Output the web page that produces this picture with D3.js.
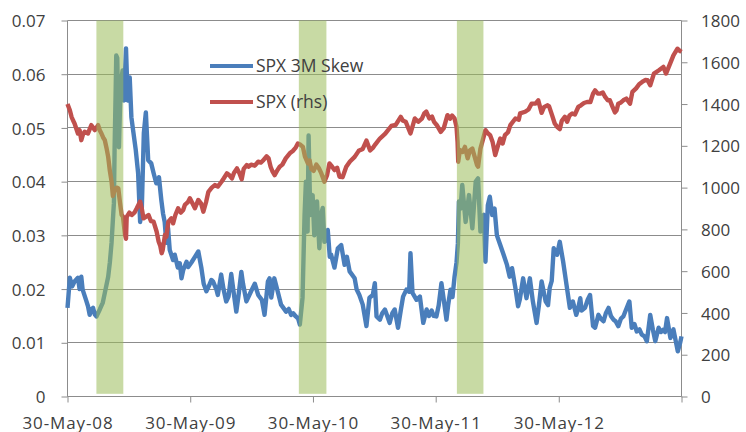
<!DOCTYPE html>
<html>
<head>
<meta charset="utf-8">
<script src="https://cdn.jsdelivr.net/npm/d3@7"></script>
<style>
body { margin: 0; background: #fff; }
svg text { font-family: "Open Sans", sans-serif; fill: #404040; }
</style>
</head>
<body>
<div id="chart"></div>
<script>
// SPX 3M skew (left axis) - [date, value]
var skewSeries = [
	["2008-05-30",0.0165],["2008-06-06",0.0221],["2008-06-13",0.0205],["2008-06-20",0.0214],["2008-06-30",0.0221],
	["2008-07-05",0.0200],["2008-07-10",0.0223],["2008-07-14",0.0199],["2008-07-24",0.0180],["2008-07-30",0.0168],
	["2008-08-04",0.0152],["2008-08-09",0.0162],["2008-08-14",0.0165],["2008-08-19",0.0153],["2008-08-24",0.0149],
	["2008-09-03",0.0162],["2008-09-12",0.0175],["2008-09-18",0.0193],["2008-09-28",0.0223],["2008-10-03",0.0250],
	["2008-10-08",0.0286],["2008-10-12",0.0329],["2008-10-15",0.0360],["2008-10-17",0.0459],["2008-10-20",0.0560],
	["2008-10-22",0.0635],["2008-10-25",0.0630],["2008-10-28",0.0520],["2008-10-30",0.0464],["2008-11-04",0.0583],
	["2008-11-10",0.0607],["2008-11-14",0.0551],["2008-11-20",0.0648],["2008-11-25",0.0551],["2008-12-01",0.0594],
	["2008-12-06",0.0520],["2008-12-11",0.0496],["2008-12-19",0.0459],["2008-12-26",0.0416],["2009-01-01",0.0325],
	["2009-01-06",0.0350],["2009-01-12",0.0490],["2009-01-18",0.0529],["2009-01-25",0.0440],["2009-02-03",0.0434],
	["2009-02-10",0.0416],["2009-02-18",0.0397],["2009-02-26",0.0408],["2009-03-05",0.0366],["2009-03-10",0.0341],
	["2009-03-15",0.0325],["2009-03-20",0.0286],["2009-03-25",0.0314],["2009-03-30",0.0273],["2009-04-09",0.0254],
	["2009-04-14",0.0264],["2009-04-23",0.0240],["2009-04-29",0.0248],["2009-05-04",0.0220],["2009-05-09",0.0235],
	["2009-05-19",0.0251],["2009-05-24",0.0241],["2009-06-03",0.0250],["2009-06-13",0.0260],["2009-06-23",0.0270],
	["2009-07-02",0.0240],["2009-07-09",0.0210],["2009-07-17",0.0196],["2009-07-24",0.0205],["2009-08-01",0.0217],
	["2009-08-06",0.0214],["2009-08-16",0.0199],["2009-08-20",0.0189],["2009-08-30",0.0227],["2009-09-06",0.0200],
	["2009-09-14",0.0177],["2009-09-21",0.0186],["2009-09-29",0.0228],["2009-10-07",0.0190],["2009-10-14",0.0158],
	["2009-10-21",0.0190],["2009-10-29",0.0232],["2009-11-03",0.0210],["2009-11-13",0.0177],["2009-11-27",0.0196],
	["2009-12-08",0.0210],["2009-12-18",0.0189],["2009-12-29",0.0180],["2010-01-06",0.0152],["2010-01-16",0.0214],
	["2010-01-21",0.0220],["2010-01-26",0.0184],["2010-02-04",0.0220],["2010-02-14",0.0196],["2010-02-24",0.0171],
	["2010-03-03",0.0165],["2010-03-11",0.0158],["2010-03-19",0.0163],["2010-03-26",0.0152],["2010-04-01",0.0155],
	["2010-04-09",0.0149],["2010-04-16",0.0145],["2010-04-21",0.0134],["2010-04-29",0.0184],["2010-05-05",0.0338],
	["2010-05-09",0.0400],["2010-05-14",0.0307],["2010-05-17",0.0486],["2010-05-22",0.0338],["2010-05-29",0.0375],
	["2010-06-03",0.0300],["2010-06-11",0.0363],["2010-06-18",0.0276],["2010-06-23",0.0338],["2010-06-28",0.0351],
	["2010-07-03",0.0288],["2010-07-13",0.0310],["2010-07-19",0.0260],["2010-07-23",0.0264],["2010-08-02",0.0240],
	["2010-08-12",0.0276],["2010-08-22",0.0282],["2010-09-01",0.0245],["2010-09-08",0.0260],["2010-09-16",0.0233],
	["2010-10-01",0.0220],["2010-10-07",0.0199],["2010-10-15",0.0189],["2010-10-25",0.0171],["2010-11-05",0.0131],
	["2010-11-14",0.0184],["2010-11-24",0.0189],["2010-11-30",0.0211],["2010-12-05",0.0149],["2010-12-15",0.0143],
	["2010-12-22",0.0155],["2010-12-30",0.0162],["2011-01-06",0.0150],["2011-01-13",0.0137],["2011-01-21",0.0155],
	["2011-01-28",0.0162],["2011-02-07",0.0128],["2011-02-15",0.0160],["2011-02-22",0.0186],["2011-03-04",0.0199],
	["2011-03-12",0.0195],["2011-03-16",0.0267],["2011-03-22",0.0193],["2011-04-03",0.0180],["2011-04-13",0.0186],
	["2011-04-23",0.0137],["2011-05-03",0.0162],["2011-05-10",0.0150],["2011-05-18",0.0160],["2011-05-24",0.0150],
	["2011-06-01",0.0149],["2011-06-08",0.0170],["2011-06-16",0.0211],["2011-06-23",0.0180],["2011-07-01",0.0143],
	["2011-07-06",0.0170],["2011-07-13",0.0199],["2011-07-19",0.0185],["2011-07-25",0.0223],["2011-07-31",0.0250],
	["2011-08-04",0.0285],["2011-08-07",0.0363],["2011-08-12",0.0350],["2011-08-17",0.0394],["2011-08-27",0.0325],
	["2011-09-06",0.0375],["2011-09-16",0.0313],["2011-09-26",0.0400],["2011-10-03",0.0406],["2011-10-10",0.0307],
	["2011-10-15",0.0335],["2011-10-20",0.0338],["2011-10-25",0.0251],["2011-11-01",0.0356],["2011-11-07",0.0372],
	["2011-11-14",0.0338],["2011-11-21",0.0350],["2011-11-28",0.0300],["2011-12-08",0.0282],["2011-12-18",0.0264],
	["2011-12-28",0.0245],["2012-01-05",0.0223],["2012-01-12",0.0239],["2012-01-22",0.0202],["2012-01-30",0.0168],
	["2012-02-04",0.0180],["2012-02-14",0.0220],["2012-02-24",0.0183],["2012-03-05",0.0220],["2012-03-14",0.0177],
	["2012-03-25",0.0137],["2012-04-01",0.0170],["2012-04-09",0.0214],["2012-04-21",0.0177],["2012-04-28",0.0170],
	["2012-05-03",0.0202],["2012-05-09",0.0215],["2012-05-15",0.0276],["2012-05-25",0.0264],["2012-06-02",0.0288],
	["2012-06-12",0.0251],["2012-06-22",0.0208],["2012-07-02",0.0165],["2012-07-11",0.0177],["2012-07-21",0.0152],
	["2012-07-26",0.0162],["2012-08-02",0.0183],["2012-08-06",0.0160],["2012-08-16",0.0165],["2012-08-24",0.0180],
	["2012-08-31",0.0189],["2012-09-09",0.0131],["2012-09-15",0.0128],["2012-09-25",0.0152],["2012-10-02",0.0145],
	["2012-10-10",0.0140],["2012-10-17",0.0155],["2012-10-25",0.0165],["2012-11-01",0.0150],["2012-11-09",0.0143],
	["2012-11-15",0.0140],["2012-11-23",0.0131],["2012-12-01",0.0145],["2012-12-08",0.0149],["2012-12-15",0.0160],
	["2012-12-26",0.0177],["2013-01-02",0.0128],["2013-01-10",0.0135],["2013-01-17",0.0121],["2013-01-25",0.0125],
	["2013-02-01",0.0115],["2013-02-09",0.0112],["2013-02-16",0.0103],["2013-02-26",0.0152],["2013-03-06",0.0124],
	["2013-03-13",0.0103],["2013-03-23",0.0128],["2013-03-30",0.0120],["2013-04-05",0.0124],["2013-04-11",0.0120],
	["2013-04-17",0.0146],["2013-04-27",0.0109],["2013-05-06",0.0125],["2013-05-19",0.0084],["2013-05-26",0.0100],
	["2013-05-30",0.0112]
];

// SPX index level (right axis)
var spxSeries = [
	["2008-05-30",1400],["2008-06-06",1370],["2008-06-11",1339],["2008-06-16",1320],["2008-06-20",1307],
	["2008-06-30",1259],["2008-07-05",1275],["2008-07-10",1227],["2008-07-15",1255],["2008-07-20",1267],
	["2008-07-30",1259],["2008-08-04",1280],["2008-08-09",1299],["2008-08-15",1285],["2008-08-19",1275],
	["2008-08-29",1299],["2008-09-03",1275],["2008-09-08",1259],["2008-09-13",1240],["2008-09-18",1227],
	["2008-09-23",1190],["2008-09-28",1147],["2008-10-03",1080],["2008-10-08",1030],["2008-10-12",960],
	["2008-10-17",988],["2008-10-23",1000],["2008-10-28",997],["2008-11-02",930],["2008-11-07",869],
	["2008-11-11",861],["2008-11-17",774],["2008-11-20",755],["2008-11-22",860],["2008-11-30",880],
	["2008-12-07",869],["2008-12-15",880],["2008-12-22",901],["2009-01-01",933],["2009-01-06",900],
	["2009-01-11",853],["2009-01-18",860],["2009-01-26",869],["2009-02-02",840],["2009-02-10",837],
	["2009-02-19",790],["2009-02-25",742],["2009-03-02",720],["2009-03-06",686],["2009-03-09",700],
	["2009-03-16",774],["2009-03-20",765],["2009-03-26",837],["2009-04-04",853],["2009-04-09",829],
	["2009-04-16",870],["2009-04-24",901],["2009-05-02",880],["2009-05-09",893],["2009-05-14",917],
	["2009-05-23",930],["2009-05-29",949],["2009-06-04",930],["2009-06-13",901],["2009-06-23",941],
	["2009-07-01",925],["2009-07-08",885],["2009-07-16",930],["2009-07-23",980],["2009-08-02",1000],
	["2009-08-11",1012],["2009-08-20",1005],["2009-08-31",1028],["2009-09-07",1045],["2009-09-16",1068],
	["2009-09-23",1060],["2009-10-01",1044],["2009-10-07",1070],["2009-10-16",1092],["2009-10-23",1070],
	["2009-10-30",1040],["2009-11-05",1090],["2009-11-14",1108],["2009-11-20",1100],["2009-11-27",1110],
	["2009-12-08",1105],["2009-12-18",1124],["2009-12-26",1120],["2010-01-02",1130],["2010-01-12",1150],
	["2010-01-18",1140],["2010-01-24",1100],["2010-01-30",1076],["2010-02-05",1060],["2010-02-12",1080],
	["2010-02-20",1100],["2010-02-28",1110],["2010-03-10",1140],["2010-03-22",1164],["2010-03-31",1175],
	["2010-04-08",1190],["2010-04-15",1211],["2010-04-23",1205],["2010-04-30",1195],["2010-05-06",1150],
	["2010-05-15",1116],["2010-05-20",1130],["2010-05-25",1090],["2010-06-01",1080],["2010-06-09",1110],
	["2010-06-16",1095],["2010-06-24",1068],["2010-07-03",1028],["2010-07-11",1060],["2010-07-18",1116],
	["2010-07-26",1100],["2010-08-02",1084],["2010-08-10",1095],["2010-08-17",1052],["2010-08-26",1050],
	["2010-09-06",1100],["2010-09-17",1125],["2010-10-01",1147],["2010-10-13",1176],["2010-10-25",1185],
	["2010-11-05",1225],["2010-11-16",1178],["2010-11-24",1190],["2010-12-01",1206],["2010-12-15",1235],
	["2010-12-31",1258],["2011-01-18",1295],["2011-01-31",1300],["2011-02-15",1339],["2011-02-22",1320],
	["2011-03-02",1315],["2011-03-16",1259],["2011-03-29",1331],["2011-04-08",1315],["2011-04-19",1330],
	["2011-04-26",1355],["2011-05-02",1364],["2011-05-11",1331],["2011-05-19",1340],["2011-05-25",1315],
	["2011-06-02",1300],["2011-06-14",1267],["2011-06-23",1285],["2011-07-04",1347],["2011-07-12",1330],
	["2011-07-18",1345],["2011-07-25",1331],["2011-07-31",1290],["2011-08-03",1219],["2011-08-05",1124],
	["2011-08-10",1180],["2011-08-18",1171],["2011-08-25",1195],["2011-09-02",1140],["2011-09-09",1179],
	["2011-09-16",1187],["2011-09-23",1147],["2011-09-30",1108],["2011-10-03",1100],["2011-10-10",1187],
	["2011-10-17",1227],["2011-10-25",1275],["2011-11-01",1260],["2011-11-08",1251],["2011-11-15",1220],
	["2011-11-23",1156],["2011-12-01",1200],["2011-12-08",1235],["2011-12-15",1211],["2011-12-22",1251],
	["2011-12-31",1265],["2012-01-07",1299],["2012-01-22",1331],["2012-02-01",1325],["2012-02-05",1355],
	["2012-02-20",1363],["2012-03-01",1374],["2012-03-10",1402],["2012-03-22",1402],["2012-03-30",1418],
	["2012-04-09",1358],["2012-04-16",1385],["2012-04-26",1394],["2012-05-01",1390],["2012-05-10",1347],
	["2012-05-18",1307],["2012-05-25",1291],["2012-06-02",1280],["2012-06-08",1320],["2012-06-17",1339],
	["2012-06-24",1315],["2012-07-01",1345],["2012-07-09",1355],["2012-07-17",1350],["2012-07-27",1386],
	["2012-08-04",1394],["2012-08-13",1405],["2012-08-22",1410],["2012-09-01",1410],["2012-09-09",1450],
	["2012-09-15",1466],["2012-09-23",1450],["2012-10-01",1450],["2012-10-08",1455],["2012-10-15",1434],
	["2012-10-23",1418],["2012-10-29",1418],["2012-11-05",1390],["2012-11-13",1360],["2012-11-18",1370],
	["2012-11-23",1402],["2012-12-01",1408],["2012-12-08",1418],["2012-12-17",1426],["2012-12-28",1402],
	["2013-01-04",1458],["2013-01-15",1475],["2013-01-24",1495],["2013-02-02",1506],["2013-02-11",1515],
	["2013-02-18",1514],["2013-02-26",1490],["2013-03-09",1546],["2013-03-24",1562],["2013-04-06",1578],
	["2013-04-14",1546],["2013-04-24",1585],["2013-05-06",1633],["2013-05-18",1665],["2013-05-25",1655],
	["2013-05-30",1650]
];

// stress periods shaded in green
var shadeStarts = ["2008-08-24", "2010-04-18", "2011-08-01"];
var shadeEnds   = ["2008-11-12", "2010-07-09", "2011-10-19"];

var xTicks = ["2008-05-30", "2009-05-30", "2010-05-30", "2011-05-30", "2012-05-30", "2013-05-30"];
var skewTicks = [0, 0.01, 0.02, 0.03, 0.04, 0.05, 0.06, 0.07];
var spxTicks = [0, 200, 400, 600, 800, 1000, 1200, 1400, 1600, 1800];
var seriesNames = ["SPX 3M Skew", "SPX (rhs)"];
var seriesColors = ["#4a7ebb", "#c0504d"];

var width = 746, height = 432;
var margin = { top: 20.5, right: 64.5, bottom: 35.5, left: 67.5 };
var innerW = width - margin.left - margin.right,
	innerH = height - margin.top - margin.bottom;

var parse = d3.timeParse("%Y-%m-%d");

var x = d3.scaleTime()
	.domain([parse(xTicks[0]), parse(xTicks[xTicks.length - 1])])
	.range([0, innerW]);
var yL = d3.scaleLinear().domain([0, 0.07]).range([innerH, 0]);
var yR = d3.scaleLinear().domain([0, 1800]).range([innerH, 0]);

var svg = d3.select("#chart").append("svg")
	.attr("width", width)
	.attr("height", height)
	.append("g")
	.attr("transform", "translate(" + margin.left + "," + margin.top + ")");

var gridColor = "#8c8c8c";

// gridlines
svg.selectAll(".grid")
	.data(skewTicks)
	.enter().append("line")
	.attr("x1", 0).attr("x2", innerW)
	.attr("y1", function (d) { return Math.round(yL(d)); })
	.attr("y2", function (d) { return Math.round(yL(d)); })
	.attr("stroke", gridColor)
	.attr("stroke-width", 1);

// axes
var fmtL = function (d) { return d === 0 ? "0" : d3.format(".2f")(d); };
var leftAxis = svg.append("g")
	.call(d3.axisLeft(yL).tickValues(skewTicks).tickFormat(fmtL).tickSize(6).tickPadding(16));
var rightAxis = svg.append("g")
	.attr("transform", "translate(" + innerW + ",0)")
	.call(d3.axisRight(yR).tickValues(spxTicks).tickFormat(d3.format("d")).tickSize(6).tickPadding(13.5));
var bottomAxis = svg.append("g")
	.attr("transform", "translate(0," + innerH + ")")
	.call(d3.axisBottom(x)
		.tickValues(xTicks.map(parse))
		.tickFormat(function (d, i) { return i === xTicks.length - 1 ? "" : d3.timeFormat("%d-%b-%y")(d); })
		.tickSize(6));

[leftAxis, rightAxis, bottomAxis].forEach(function (g) {
	g.selectAll(".tick line").attr("stroke", gridColor);
	g.selectAll("text").attr("font-size", 17).attr("fill", "#404040");
});
leftAxis.selectAll("text").attr("dy", "0.36em");
rightAxis.selectAll("text").attr("dy", "0.36em");
bottomAxis.selectAll("text").attr("y", 32).attr("dy", 0).attr("letter-spacing", "0.9px");
svg.selectAll(".domain").remove();
// plain frame lines
svg.append("line").attr("x1", 0).attr("x2", 0).attr("y1", 0).attr("y2", innerH).attr("stroke", gridColor);
svg.append("line").attr("x1", innerW).attr("x2", innerW).attr("y1", 0).attr("y2", innerH).attr("stroke", gridColor);
svg.append("line").attr("x1", 0).attr("x2", innerW).attr("y1", innerH).attr("y2", innerH).attr("stroke", gridColor);

// series lines
var skewLine = d3.line()
	.x(function (d) { return x(parse(d[0])); })
	.y(function (d) { return yL(d[1]); });
var spxLine = d3.line()
	.x(function (d) { return x(parse(d[0])); })
	.y(function (d) { return yR(d[1]); });

svg.append("path")
	.datum(skewSeries)
	.attr("d", skewLine)
	.attr("fill", "none")
	.attr("stroke", seriesColors[0])
	.attr("stroke-width", 4.4)
	.attr("stroke-linejoin", "round");

svg.append("path")
	.datum(spxSeries)
	.attr("d", spxLine)
	.attr("fill", "none")
	.attr("stroke", seriesColors[1])
	.attr("stroke-width", 4.4)
	.attr("stroke-linejoin", "round");

// shaded bands drawn on top, semi transparent
svg.selectAll(".band")
	.data(d3.range(shadeStarts.length))
	.enter().append("rect")
	.attr("x", function (i) { return x(parse(shadeStarts[i])); })
	.attr("width", function (i) { return x(parse(shadeEnds[i])) - x(parse(shadeStarts[i])); })
	.attr("y", yL(0.07))
	.attr("height", yL(0.0005) - yL(0.07))
	.attr("fill", "#9bbb59")
	.attr("opacity", 0.55);

// legend
var legend = svg.selectAll(".legend")
	.data(seriesNames)
	.enter().append("g")
	.attr("transform", function (d, i) { return "translate(" + (210 - margin.left) + "," + (66 - margin.top + i * 36) + ")"; });
legend.append("line")
	.attr("x1", 0).attr("x2", 43)
	.attr("stroke", function (d, i) { return seriesColors[i]; })
	.attr("stroke-width", 4);
legend.append("text")
	.attr("x", 46)
	.attr("dy", "0.36em")
	.attr("font-size", 17.5)
	.text(function (d) { return d; });
</script>
</body>
</html>
